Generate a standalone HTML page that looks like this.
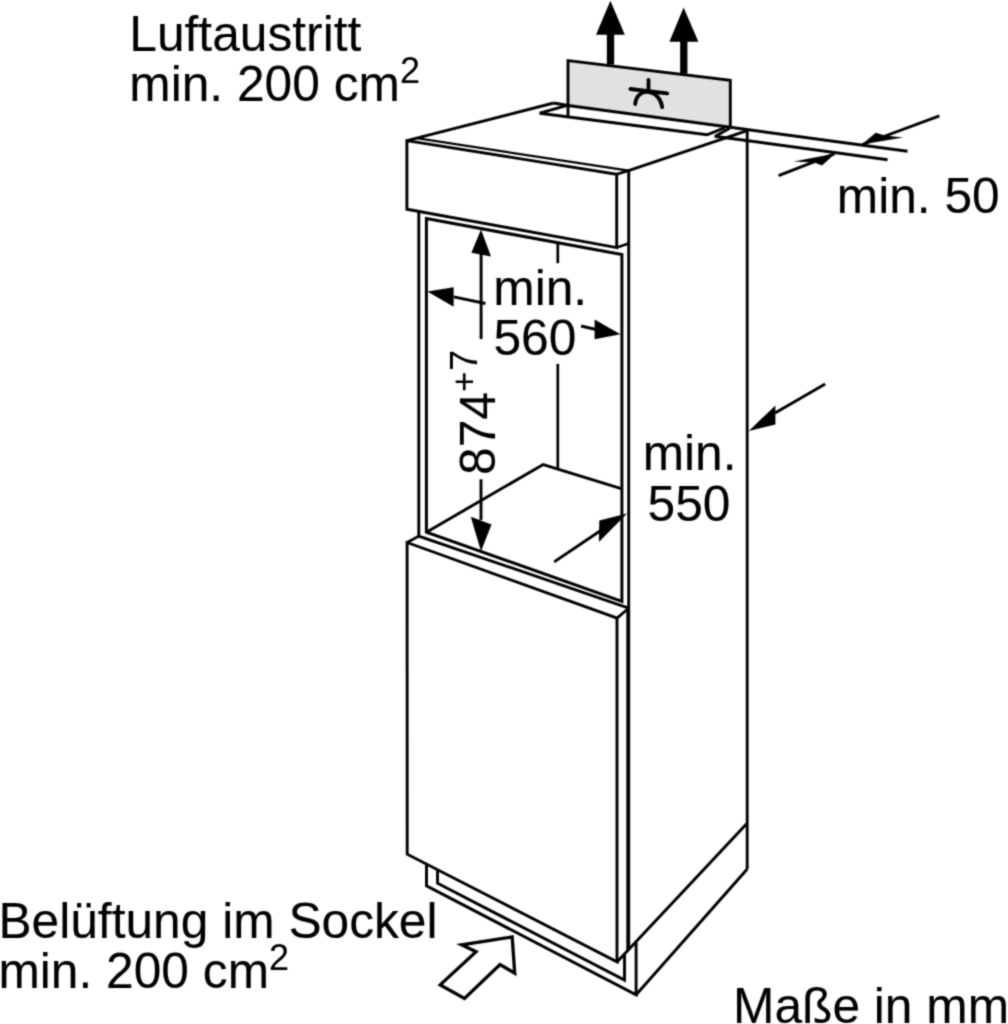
<!DOCTYPE html>
<html lang="de">
<head>
<meta charset="utf-8">
<title>Einbaumaße</title>
<style>
  html, body { margin: 0; padding: 0; background: #fff; }
  body { width: 1008px; height: 1024px; overflow: hidden; }
  svg { display: block; }
  text { font-family: "Liberation Sans", Arial, Helvetica, sans-serif; fill: #000; stroke: #000; stroke-width: 0.12; }
  .l { fill: none; stroke: #000; stroke-width: 2.9; stroke-linecap: butt; stroke-linejoin: miter; }
  .t { fill: none; stroke: #000; stroke-width: 2.7; }
  .n { fill: none; stroke: #000; stroke-width: 2.2; }
  .s { fill: none; stroke: #000; stroke-width: 3.8; stroke-linecap: round; }
  .k { fill: none; stroke: #000; stroke-width: 3; }
  .f { fill: #000; stroke: none; }
</style>
</head>
<body>
<svg width="1008" height="1024" viewBox="0 0 1008 1024">
  <defs>
    <filter id="soft" x="0" y="0" width="1008" height="1024" filterUnits="userSpaceOnUse" color-interpolation-filters="sRGB">
      <feConvolveMatrix order="3" kernelMatrix="0.036 0.118 0.036 0.118 0.384 0.118 0.036 0.118 0.036" divisor="1" edgeMode="duplicate" preserveAlpha="true"/>
    </filter>
  </defs>
  <g filter="url(#soft)">
  <rect x="-10" y="-10" width="1028" height="1044" fill="#fff"/>

  <!-- grey back panel -->
  <g id="panel">
    <polygon points="568,60.6 730.3,80.4 730.3,127.3 568,105.5" fill="#e1e1e1" stroke="none"/>
    <path class="l" d="M568,116.4 L568,60.6 L730.3,80.4 L730.3,127.3"/>
    <path class="l" d="M553.7,103 L568,105.5 L730.3,127.3"/>
    <!-- symbol -->
    <path class="s" d="M648.5,79.8 L648.5,91.5"/>
    <path class="s" d="M630.4,89 L667.2,93.4" stroke-width="4.1"/>
    <path class="s" d="M635.2,104 C635.8,96.2 641,91.2 648.5,92 C656,92.8 661.1,99.2 662.2,107.2" stroke-width="3.8"/>
  </g>

  <!-- air out arrows -->
  <g id="arrows-up">
    <path d="M610.5,64.5 L610.5,30" stroke="#000" stroke-width="7.3" fill="none"/>
    <polygon class="f" points="610.4,0.8 624.8,34.8 596,34.8"/>
    <path d="M683.8,73.5 L683.8,38" stroke="#000" stroke-width="7.3" fill="none"/>
    <polygon class="f" points="683.6,7.6 698.4,41.8 669.4,41.8"/>
  </g>

  <!-- cabinet top -->
  <g id="top">
    <path class="l" d="M406.9,140.6 L553.7,103"/>
    <path class="l" d="M566.5,105.6 L539.7,113.2 L707,134.8 L725.1,127.7"/>
    <path class="l" d="M628.6,170.6 L747.2,130.6"/>
    <path class="t" d="M715.2,136.3 L729.8,128.3"/>
    <path class="l" d="M730.3,127.3 L907.5,151.2"/>
    <path class="l" d="M714.6,136.2 L887.6,159.7"/>
  </g>

  <!-- top front panel -->
  <g id="drawer">
    <path class="l" d="M406.9,140.6 L616.7,174.2 L616.7,247.6 L406.9,209.3 Z"/>
    <path class="n" d="M416.5,138.2 L628.6,170.6"/>
    <path class="t" d="M616.7,174.2 L628.6,170.6"/>
    <path class="t" d="M616.7,247.5 L628.6,243.5"/>
  </g>

  <!-- carcass verticals -->
  <g id="carcass">
    <path class="l" d="M628.7,170 L628.7,948"/>
    <path class="l" d="M747.2,130.3 L747.2,869.3"/>
    <path class="l" d="M418.8,211 L418.8,536.1 L628,607.8"/>
    <path class="k" d="M426.4,218.5 L621.9,254.6 L621.9,601.3 L426.4,532.2 Z"/>
    <path class="l" d="M426.4,532.2 L543.2,464.5 L621.2,488.7"/>
    <path class="t" d="M557.8,243.2 L557.8,263.2"/>
    <path class="t" d="M557.8,363.9 L557.8,469"/>
  </g>

  <!-- lower door -->
  <g id="door">
    <path class="l" d="M407.1,542.5 L617,618.1 L617,961.9 L407.2,854.2 Z"/>
    <path class="t" d="M407.1,542.5 L418.8,536.1"/>
    <path class="t" d="M617,618.1 L627.5,609.3"/>
    <path d="M627.2,609.3 L627.2,950" stroke="#000" stroke-width="1.8" fill="none"/>
  </g>

  <!-- plinth -->
  <g id="plinth">
    <path class="l" d="M426.5,864.5 L426.5,885.8 L636.1,994.8 L636.1,942.5"/>
    <path class="l" d="M437.5,870.5 L437.5,883.2 L624.5,980 L624.5,955"/>
    <path class="l" d="M636.1,994.8 L747.1,869.3"/>
    <path class="l" d="M617,961.9 L746.7,823.8"/>
  </g>

  <!-- hollow arrow -->
  <polygon points="512.2,937 461.6,944.8 476.1,951.8 440.2,984.9 464.5,998.5 500,964.5 514.7,973.2" fill="#fff" stroke="#000" stroke-width="3.3"/>

  <!-- dimension arrows -->
  <g id="dims">
    <!-- vertical 874 -->
    <path class="l" d="M481.1,250 L481.1,339"/>
    <polygon class="f" points="481,229.6 491,256.6 471.4,252.8"/>
    <path class="l" d="M481,479.3 L481,520"/>
    <polygon class="f" points="481,551.2 470.8,516.8 491.5,524.4"/>
    <!-- horizontal 560 -->
    <path class="l" d="M453.8,296.9 L485.5,303.5"/>
    <polygon class="f" points="427.4,291.4 453.6,287.3 453.6,306.8"/>
    <path class="l" d="M581.1,326 L596,329.5"/>
    <polygon class="f" points="620.4,334.2 594.6,319.6 594.6,339.2"/>
    <!-- depth 550 -->
    <path class="l" d="M554.2,561.9 L600,531"/>
    <polygon class="f" points="627,513.5 599.3,520.6 598.9,541.9"/>
    <path class="l" d="M825.2,384 L775,413"/>
    <polygon class="f" points="748.8,430.9 775.4,405.4 775.4,424.4"/>
    <!-- min 50 -->
    <path class="l" d="M939.4,115.8 L862.3,144.5"/>
    <polygon class="f" points="861.8,144.6 875.7,132.7 884.9,135.5 903,137.4"/>
    <path class="l" d="M778.6,175.6 L834.4,153.8"/>
    <polygon class="f" points="835.2,153.5 822,165.6 814.4,162.5 793.8,161.6"/>
  </g>

  <!-- labels -->
  <g id="labels" font-size="49.7">
    <text x="129.3" y="50.8">Luftaustritt</text>
    <text x="129.3" y="100.8">min. 200 cm<tspan font-size="36" dy="-18">2</tspan></text>
    <text x="-1.6" y="937.5">Belüftung im Sockel</text>
    <text x="-1.6" y="987.8">min. 200 cm<tspan font-size="36" dy="-18">2</tspan></text>
    <text x="733" y="1022.9">Maße in mm</text>
    <text x="836.8" y="212.8">min. 50</text>
    <text x="493.3" y="304.6">min.</text>
    <text x="493.4" y="355.2">560</text>
    <text x="642.7" y="470.4">min.</text>
    <text x="647.6" y="521">550</text>
    <text transform="translate(495.3,475) rotate(-90)">874<tspan font-size="35" dy="-19.6">+</tspan><tspan font-size="38" dy="1.5" dx="0.6">7</tspan></text>
  </g>
  </g>
</svg>
</body>
</html>
